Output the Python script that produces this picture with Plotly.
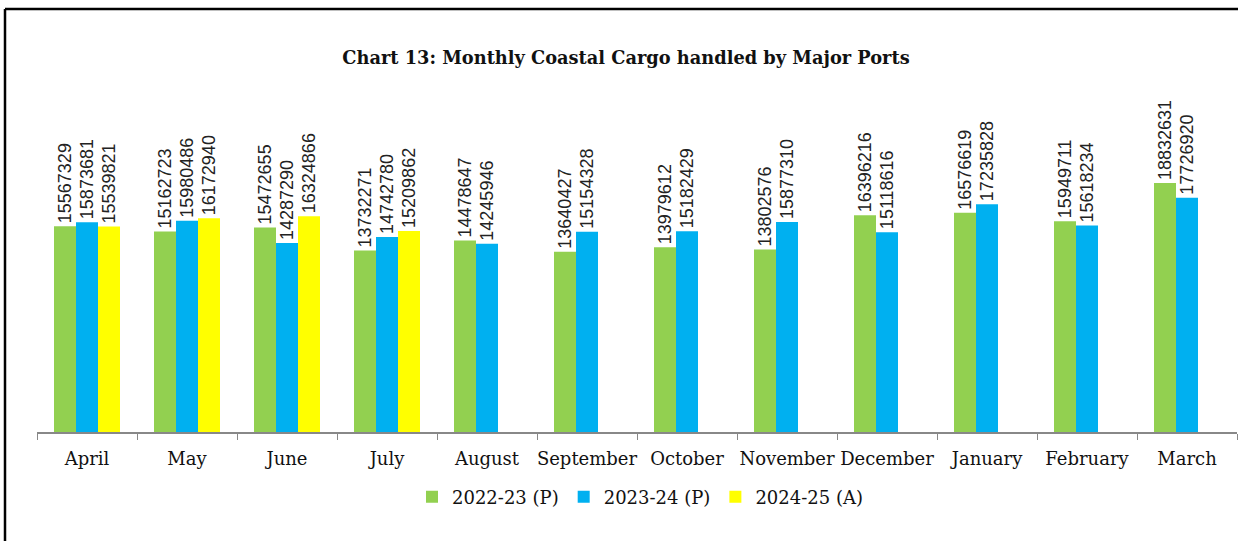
import plotly.graph_objects as go

months = ["April", "May", "June", "July", "August", "September", "October",
          "November", "December", "January", "February", "March"]
fy2223 = [15567329, 15162723, 15472655, 13732271, 14478647, 13640427, 13979612,
          13802576, 16396216, 16576619, 15949711, 18832631]
fy2324 = [15873681, 15980486, 14287290, 14742780, 14245946, 15154328, 15182429,
          15877310, 15118616, 17235828, 15618234, 17726920]
fy2425 = [15539821, 16172940, 16324866, 15209862, None, None, None,
          None, None, None, None, None]

series = [("2022-23 (P)", fy2223, "#92D050"),
          ("2023-24 (P)", fy2324, "#00B0F0"),
          ("2024-25 (A)", fy2425, "#FFFF00")]

label_font = dict(family="Liberation Sans Narrow, Arial Narrow, Liberation Sans, sans-serif",
                  size=18, color="#222222")
serif = "DejaVu Serif, Liberation Serif, serif"

fig = go.Figure()
for name, vals, color in series:
    fig.add_trace(go.Bar(
        x=months, y=vals, name=name, marker=dict(color=color, line=dict(width=0)),
        text=[str(v) if v is not None else "" for v in vals],
        textposition="outside", textangle=-90, textfont=label_font,
        constraintext="none", cliponaxis=False,
    ))

fig.update_layout(
    width=1238, height=541,
    margin=dict(l=37, r=1, t=100, b=109),
    paper_bgcolor="white", plot_bgcolor="white",
    barmode="group", bargap=0.34, bargroupgap=0,
    title=dict(text="<b>Chart 13: Monthly Coastal Cargo handled by Major Ports</b>",
               x=626 / 1238, xanchor="center", y=1 - 58 / 541, yanchor="middle",
               font=dict(family=serif, size=17.8, color="#111111")),
    xaxis=dict(showline=True, linecolor="#888888", linewidth=1.5,
               ticks="outside", tickson="boundaries", ticklen=6, tickcolor="#888888",
               ticklabelstandoff=10, tickangle=0,
               tickfont=dict(family=serif, size=18, color="#111111"),
               showgrid=False),
    yaxis=dict(visible=False, range=[0, 332 / 13.22 * 1e6], showgrid=False),
    legend=dict(orientation="h", x=(640 - 37) / 1200, xanchor="center", y=(432 - 497) / 332,
                yanchor="middle", font=dict(family=serif, size=18, color="#111111"),
                itemwidth=30, traceorder="normal"),
    shapes=[
        dict(type="line", xref="paper", yref="paper",
             x0=(5 - 37) / 1200, x1=(1238 - 37) / 1200,
             y0=(432 - 9) / 332, y1=(432 - 9) / 332,
             line=dict(color="black", width=2.5)),
        dict(type="line", xref="paper", yref="paper",
             x0=(5 - 37) / 1200, x1=(5 - 37) / 1200,
             y0=(432 - 9) / 332, y1=(432 - 545) / 332,
             line=dict(color="black", width=2.5)),
    ],
)

fig.write_html("out.html", config={"displayModeBar": False},
               post_script="document.body.style.margin='0px';document.body.style.overflow='hidden';")
